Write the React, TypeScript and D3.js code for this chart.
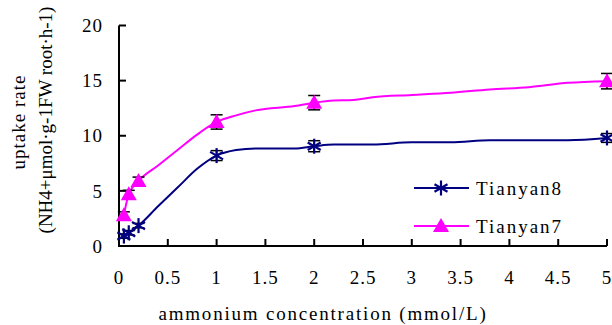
import * as d3 from "d3";

// marker points (measured concentrations)
const concentrations = [0.05, 0.1, 0.2, 1, 2, 5];
const tianyan8 = [0.9, 1.2, 1.85, 8.2, 9.05, 9.8];
const tianyan8Err = [0.2, 0.2, 0.2, 0.45, 0.5, 0.4];
const tianyan7 = [2.8, 4.7, 5.9, 11.25, 13.0, 14.95];
const tianyan7Err = [0.3, 0.35, 0.35, 0.65, 0.65, 0.7];

// smoothed trend line vertices
const line8X = [0.05, 0.1, 0.2, 0.4, 0.6, 0.8, 1, 1.2, 1.4, 1.8, 2, 2.2, 2.6, 3, 3.4, 3.8, 4.6, 5];
const line8Y = [0.9, 1.2, 1.85, 3.6, 5.3, 7.0, 8.2, 8.7, 8.85, 8.85, 9.05, 9.2, 9.2, 9.4, 9.4, 9.6, 9.6, 9.8];
const line7X = [0.05, 0.1, 0.2, 0.4, 0.6, 0.8, 1, 1.2, 1.4, 1.8, 2, 2.2, 2.4, 2.6, 3, 3.4, 3.8, 4.2, 4.6, 5];
const line7Y = [2.8, 4.7, 5.9, 7.3, 8.7, 10.1, 11.25, 11.85, 12.3, 12.7, 13.0, 13.2, 13.25, 13.5, 13.7, 13.9, 14.2, 14.4, 14.8, 14.95];

const xTicks = [0, 0.5, 1, 1.5, 2, 2.5, 3, 3.5, 4, 4.5, 5];
const yTicks = [0, 5, 10, 15, 20];
const seriesNames = ["Tianyan8", "Tianyan7"];

const NAVY = "#000080";
const MAGENTA = "#FF00FF";
const FONT = "'Liberation Serif', 'DejaVu Serif', serif";

const x = d3.scaleLinear().domain([0, 5]).range([119, 607]);
const y = d3.scaleLinear().domain([0, 20]).range([246, 25.5]);

const line = d3
  .line<[number, number]>()
  .x((d) => x(d[0]))
  .y((d) => y(d[1]))
  .curve(d3.curveMonotoneX);

const Star = ({ cx, cy }: { cx: number; cy: number }) => {
  const r = 7.5;
  const a = r * 0.866;
  return (
    <g stroke={NAVY} strokeWidth={2.2}>
      <line x1={cx} y1={cy - r} x2={cx} y2={cy + r} />
      <line x1={cx - a} y1={cy - r / 2} x2={cx + a} y2={cy + r / 2} />
      <line x1={cx - a} y1={cy + r / 2} x2={cx + a} y2={cy - r / 2} />
    </g>
  );
};

const Triangle = ({ cx, cy }: { cx: number; cy: number }) => (
  <path
    d={`M${cx},${cy - 8}L${cx + 8},${cy + 6}L${cx - 8},${cy + 6}Z`}
    fill={MAGENTA}
  />
);

const ErrorBar = ({ cx, v, e }: { cx: number; v: number; e: number }) => (
  <g stroke="#000" strokeWidth={1.5}>
    <line x1={cx} y1={y(v + e)} x2={cx} y2={y(v - e)} />
    <line x1={cx - 6} y1={y(v + e)} x2={cx + 6} y2={y(v + e)} />
    <line x1={cx - 6} y1={y(v - e)} x2={cx + 6} y2={y(v - e)} />
  </g>
);

export default function App() {
  const path8 = line(line8X.map((v, i) => [v, line8Y[i]]));
  const path7 = line(line7X.map((v, i) => [v, line7Y[i]]));

  return (
    <svg
      width={612}
      height={325}
      style={{ position: "absolute", left: 0, top: 0, background: "#fff", fontFamily: FONT }}
    >
      {/* axes */}
      <g stroke="#000" strokeWidth={2}>
        <line x1={x(0)} y1={y(20)} x2={x(0)} y2={y(0) + 1} />
        <line x1={x(0)} y1={y(0)} x2={x(5)} y2={y(0)} />
        {yTicks.map((t) => (
          <line key={t} x1={x(0)} y1={y(t)} x2={x(0) + 7} y2={y(t)} />
        ))}
        {xTicks.map((t) => (
          <line key={t} x1={x(t)} y1={y(0)} x2={x(t)} y2={y(0) - 7} />
        ))}
      </g>
      <g fontSize={19} fill="#000">
        {yTicks.map((t) => (
          <text key={t} x={103} y={y(t)} dy="0.35em" textAnchor="end" letterSpacing={1}>
            {t}
          </text>
        ))}
        {xTicks.map((t) => (
          <text key={t} x={x(t)} y={277} dy="0.35em" textAnchor="middle" letterSpacing={1}>
            {t}
          </text>
        ))}
        <text x={323} y={313} dy="0.35em" textAnchor="middle" letterSpacing={1.8}>
          ammonium concentration (mmol/L)
        </text>
        <text
          transform="translate(18,122) rotate(-90)"
          dy="0.35em"
          textAnchor="middle"
          letterSpacing={1}
        >
          uptake rate
        </text>
        <text
          transform="translate(45,120) rotate(-90)"
          dy="0.35em"
          textAnchor="middle"
        >
          (NH4+μmol·g-1FW root·h-1)
        </text>
      </g>

      {/* lines */}
      <path d={path8 ?? ""} fill="none" stroke={NAVY} strokeWidth={2} />
      <path d={path7 ?? ""} fill="none" stroke={MAGENTA} strokeWidth={2} />

      {/* error bars */}
      {concentrations.map((c, i) => (
        <ErrorBar key={"e8" + c} cx={x(c)} v={tianyan8[i]} e={tianyan8Err[i]} />
      ))}
      {concentrations.map((c, i) => (
        <ErrorBar key={"e7" + c} cx={x(c)} v={tianyan7[i]} e={tianyan7Err[i]} />
      ))}

      {/* markers */}
      {concentrations.map((c, i) => (
        <Star key={"s" + c} cx={x(c)} cy={y(tianyan8[i])} />
      ))}
      {concentrations.map((c, i) => (
        <Triangle key={"t" + c} cx={x(c)} cy={y(tianyan7[i])} />
      ))}

      {/* legend */}
      {seriesNames.map((name, i) => {
        const ly = 188 + i * 38;
        return (
          <g key={name}>
            <line
              x1={414}
              x2={469}
              y1={ly}
              y2={ly}
              stroke={i === 0 ? NAVY : MAGENTA}
              strokeWidth={2}
            />
            {i === 0 ? <Star cx={441} cy={ly} /> : <Triangle cx={441} cy={ly} />}
            <text x={476} y={ly} dy="0.35em" fontSize={19} letterSpacing={2}>
              {name}
            </text>
          </g>
        );
      })}
    </svg>
  );
}
